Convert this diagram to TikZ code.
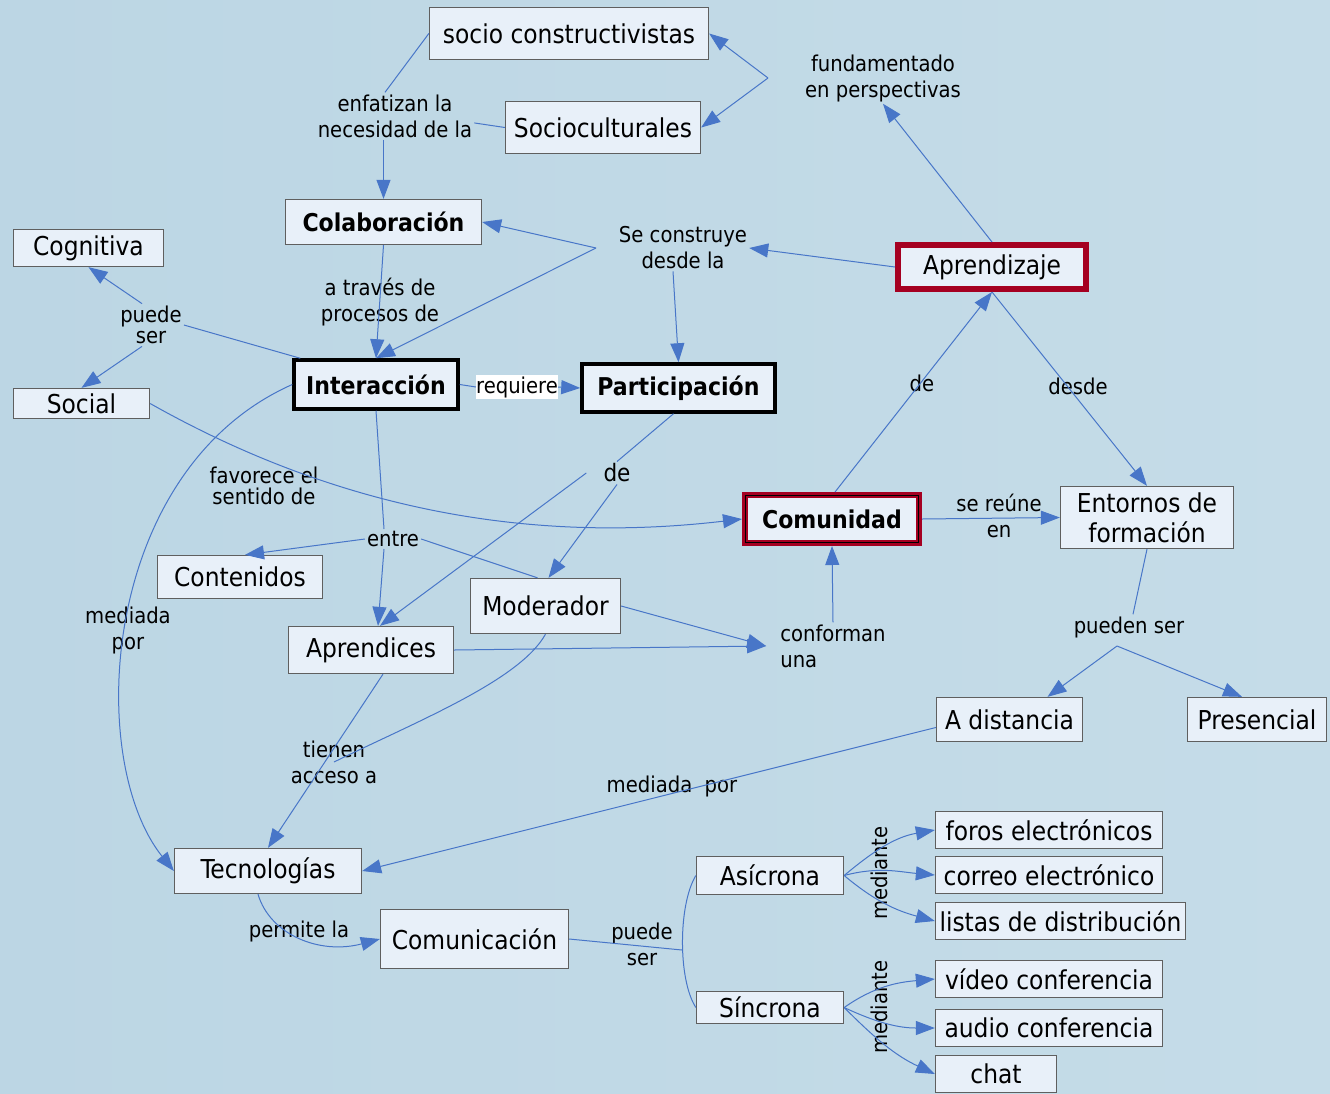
\documentclass[tikz,border=0pt]{standalone}
\usepackage{fontspec}
\setmainfont{DejaVu Sans Condensed}
\usepackage{tikz}
\usetikzlibrary{arrows.meta}
\definecolor{azul}{RGB}{72,118,200}
\definecolor{rojo}{RGB}{165,0,33}
\definecolor{relleno}{RGB}{232,240,249}
\definecolor{borde}{RGB}{95,95,95}
\definecolor{fondoA}{RGB}{188,214,228}
\definecolor{fondoB}{RGB}{209,229,238}
\definecolor{fondoC}{RGB}{197,220,232}
\newcommand\cfont{\fontsize{26}{28}\selectfont}
\newcommand\bfont{\fontsize{24.5}{28}\selectfont\bfseries}
\newcommand\ffont{\fontsize{21.8}{26}\selectfont}

\begin{document}
\begin{tikzpicture}[x=1pt,y=-1pt,
		concepto/.style={draw=borde,fill=relleno,line width=1.3pt,inner sep=0pt,font=\cfont,align=center},
		clave/.style={concepto,draw=black,line width=3.5pt,font=\bfont},
		nucleo/.style={concepto,draw=rojo,line width=6pt},
		frase/.style={font=\ffont,align=center,inner sep=2pt},
		enlace/.style={draw=azul,line width=1pt},
		flecha/.style={enlace,-{Triangle[length=19pt,width=14pt]}}]
		\useasboundingbox (0,0) rectangle (1330,1093);
		\shade[left color=fondoA,middle color=fondoB,right color=fondoC] (0,0) rectangle (1330,1093);

		\node[concepto,minimum width=279pt,minimum height=52pt] (socio) at (569,33.5) {socio constructivistas};
		\node[concepto,minimum width=195pt,minimum height=52pt] (sociocult) at (603,127.5) {Socioculturales};
		\node[concepto,font=\bfont,minimum width=196pt,minimum height=45pt] (colab) at (383.5,222) {Colaboración};
		\node[concepto,minimum width=150pt,minimum height=37pt] (cognitiva) at (88.5,248) {Cognitiva};
		\node[concepto,minimum width=136pt,minimum height=30pt] (social) at (81.5,403.5) {Social};
		\node[clave,minimum width=164pt,minimum height=49pt] (interaccion) at (376,384.5) {Interacción};
		\node[clave,minimum width=193pt,minimum height=48pt] (particip) at (678.5,388) {Participación};
		\node[nucleo,minimum width=188pt,minimum height=44pt] (aprendizaje) at (992,267) {Aprendizaje};
		\node[nucleo,font=\bfont,minimum width=174pt,minimum height=48pt] (comunidad) at (832,519) {Comunidad};
		\draw[black,line width=1.5pt] ([shift={(3.5pt,-3.5pt)}]comunidad.north west) rectangle ([shift={(-3.5pt,3.5pt)}]comunidad.south east);
		\node[concepto,font=\fontsize{26}{30}\selectfont,minimum width=173pt,minimum height=62pt] (entornos) at (1147,517.5) {Entornos de\\formación};
		\node[concepto,minimum width=165pt,minimum height=43pt] (contenidos) at (240,577) {Contenidos};
		\node[concepto,minimum width=150pt,minimum height=55pt] (moderador) at (545.5,606) {Moderador};
		\node[concepto,minimum width=165pt,minimum height=47pt] (aprendices) at (371,650) {Aprendices};
		\node[concepto,minimum width=146pt,minimum height=44pt] (adistancia) at (1009.5,719.5) {A distancia};
		\node[concepto,minimum width=139pt,minimum height=44pt] (presencial) at (1257,719.5) {Presencial};
		\node[concepto,minimum width=187pt,minimum height=45pt] (tecno) at (268,871) {Tecnologías};
		\node[concepto,minimum width=188pt,minimum height=59pt] (comunic) at (474.5,939) {Comunicación};
		\node[concepto,minimum width=147pt,minimum height=38pt] (asincrona) at (770,875.5) {Asícrona};
		\node[concepto,minimum width=147pt,minimum height=32pt] (sincrona) at (770,1007.5) {Síncrona};
		\node[concepto,minimum width=227pt,minimum height=37pt] (foros) at (1049,830) {foros electrónicos};
		\node[concepto,minimum width=227pt,minimum height=37pt] (correo) at (1049,875) {correo electrónico};
		\node[concepto,minimum width=250pt,minimum height=37pt] (listas) at (1060.5,921) {listas de distribución};
		\node[concepto,minimum width=227pt,minimum height=37pt] (video) at (1049,979) {vídeo conferencia};
		\node[concepto,minimum width=227pt,minimum height=37pt] (audio) at (1049,1028) {audio conferencia};
		\node[concepto,minimum width=121pt,minimum height=37pt] (chat) at (996,1074) {chat};

		\node[frase] (enfatizan) at (395,116) {enfatizan la\\necesidad de la};
		\node[frase] (fundamentado) at (883,78) {fundamentado\\en perspectivas};
		\node[frase] (seconstruye) at (683,248) {Se construye\\desde la};
		\node[frase] (atraves) at (380,302) {a través de\\procesos de};
		\node[frase,font=\fontsize{21.8}{21.5}\selectfont] (puedeser) at (151,325) {puede\\ser};
		\node[frase,fill=white,inner sep=0pt,minimum height=24pt] (requiere) at (517,387) {requiere};
		\node[frase] (deA) at (922,383) {de};
		\node[frase] (desde) at (1078,386) {desde};
		\node[frase,font=\fontsize{24}{26}\selectfont] (deP) at (617,473) {de};
		\node[frase,font=\fontsize{21.8}{21.5}\selectfont] (favorece) at (264,486) {favorece el\\sentido de};
		\node[frase] (entre) at (393,539) {entre};
		\node[frase] (sereune) at (999,516) {se reúne\\en};
		\node[frase] (mediada) at (128,630) {mediada\\por};
		\node[frase,align=left] (conforman) at (833,646) {conforman\\una};
		\node[frase] (puedenser) at (1129,627) {pueden ser};
		\node[frase] (tienen) at (334,762) {tienen\\acceso a};
		\node[frase] (mediadapor) at (672,786) {mediada~~por};
		\node[frase] (permite) at (299,931) {permite la};
		\node[frase] (puedeser2) at (642,944) {puede\\ser};
		\node[frase,rotate=90] (medianteA) at (879,873) {mediante};
		\node[frase,rotate=90] (medianteS) at (879,1007) {mediante};

		\coordinate (fjunta) at (768,78);
		\coordinate (sjunta) at (596,248);
		\coordinate (pjunta) at (1117,646);
		\coordinate (cjunta) at (682,950);

		\draw[enlace] (socio.west) -- (enfatizan.113);
		\draw[enlace] (sociocult.west) -- (enfatizan.-5);
		\draw[flecha] (enfatizan.south -| colab.north) -- (colab.north);
		\draw[flecha] (fjunta) -- (socio.east);
		\draw[flecha] (fjunta) -- (sociocult.east);
		\draw[flecha] (aprendizaje.north) -- (fundamentado.south);
		\draw[flecha] (aprendizaje.west) -- (seconstruye.east);
		\draw[flecha] ([xshift=-10pt]seconstruye.south) -- (particip.north);
		\draw[flecha] (sjunta) -- (colab.east);
		\draw[flecha] (sjunta) -- (interaccion.north);
		\draw[flecha] (colab.south) -- (interaccion.north);
		\draw[enlace] ([xshift=8pt]interaccion.north west) -- (puedeser.east);
		\draw[flecha] ([xshift=-9pt]puedeser.north) -- (cognitiva.south);
		\draw[flecha] ([xshift=-9pt]puedeser.south) -- (social.north);
		\draw[enlace] (interaccion.east) -- (requiere.west);
		\draw[flecha] (requiere.east) -- (particip.west);
		\draw[flecha] (interaccion.west) .. controls (100,470) and (85,760) .. (tecno.west);
		\draw[flecha] (social.east) .. controls (330,505) and (520,545) .. (comunidad.west);
		\draw[enlace] (interaccion.south) -- ([xshift=-9pt]entre.north);
		\draw[flecha] (entre.west) -- ([xshift=5pt]contenidos.north);
		\draw[flecha] ([xshift=-9pt]entre.south) -- ([xshift=7pt]aprendices.north);
		\draw[enlace] (entre.east) -- ([xshift=-8pt]moderador.north);
		\draw[enlace] ([xshift=-5pt]particip.south) -- (deP.north);
		\draw[flecha] ([xshift=-15pt]deP.west) -- ([xshift=9pt]aprendices.north);
		\draw[flecha] (deP.south) -- ([xshift=3pt]moderador.north);
		\draw[flecha] ([xshift=3pt]comunidad.north) -- (aprendizaje.south);
		\draw[flecha] (aprendizaje.south) -- (entornos.north);
		\draw[flecha] (comunidad.east) -- (entornos.west);
		\draw[enlace] (entornos.south) -- ([xshift=4pt]puedenser.north);
		\draw[flecha] (pjunta) -- ([xshift=38pt]adistancia.north);
		\draw[flecha] (pjunta) -- ([xshift=-15pt]presencial.north);
		\draw[flecha] (moderador.east) -- ([xshift=-12pt]conforman.west);
		\draw[flecha] (aprendices.east) -- ([xshift=-12pt]conforman.west);
		\draw[flecha] (conforman.north) -- (comunidad.south);
		\draw[flecha] ([xshift=12pt]aprendices.south) -- (tecno.north);
		\draw[enlace] (moderador.south) .. controls (520,680) and (420,720) .. (tienen.center);
		\draw[flecha] ([yshift=-8pt]adistancia.west) -- (tecno.east);
		\draw[flecha] ([xshift=-10pt]tecno.south) .. controls (270,935) and (320,955) .. (comunic.west);
		\draw[enlace] (comunic.east) -- (cjunta);
		\draw[enlace] (asincrona.west) .. controls (678,905) and (678,980) .. (sincrona.west);
		\draw[flecha] (asincrona.east) to[out=40,in=190] (foros.west);
		\draw[flecha] (asincrona.east) to[out=15,in=175] (correo.west);
		\draw[flecha] (asincrona.east) to[out=-40,in=165] (listas.west);
		\draw[flecha] (sincrona.east) to[out=35,in=185] (video.west);
		\draw[flecha] (sincrona.east) to[out=-25,in=180] (audio.west);
		\draw[flecha] (sincrona.east) to[out=-45,in=155] (chat.west);
\end{tikzpicture}
\end{document}
